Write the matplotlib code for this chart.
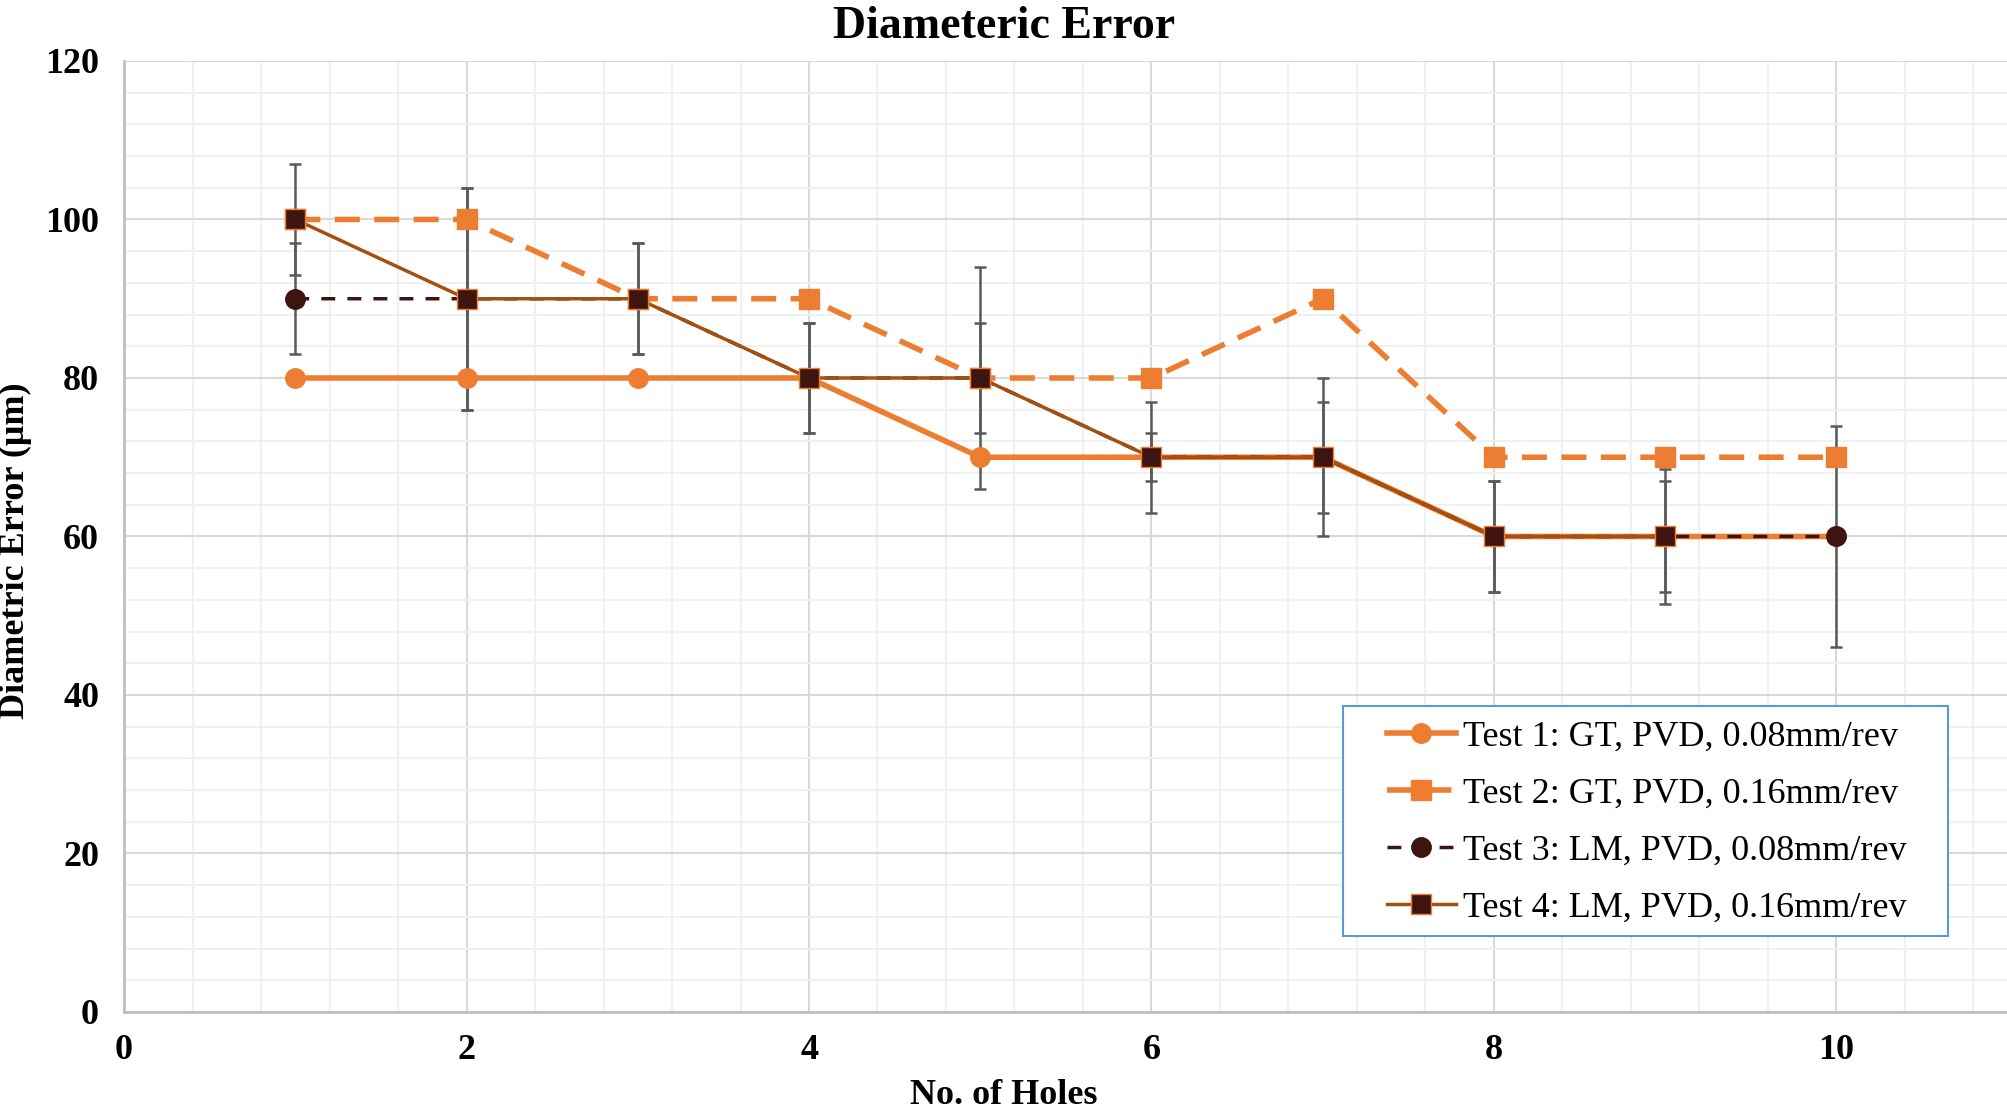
import matplotlib.pyplot as plt
from matplotlib.patches import Rectangle
from matplotlib.ticker import MultipleLocator

# data
holes = [1, 2, 3, 4, 5, 6, 7, 8, 9, 10]
test1 = [80, 80, 80, 80, 70, 70, 70, 60, 60, 60]
test2 = [100, 100, 90, 90, 80, 80, 90, 70, 70, 70]
test3 = [90, 90, 90, 80, 80, 70, 70, 60, 60, 60]
test3_err = [7, 14, 7, 7, 14, 7, 10, 7, 8.5, 14]
holes4 = [1, 2, 3, 4, 5, 6, 7, 8, 9]
test4 = [100, 90, 90, 80, 80, 70, 70, 60, 60]
test4_err = [7, 14, 7, 7, 7, 3, 7, 7, 7]

labels = ['Test 1: GT, PVD, 0.08mm/rev',
          'Test 2: GT, PVD, 0.16mm/rev',
          'Test 3: LM, PVD, 0.08mm/rev',
          'Test 4: LM, PVD, 0.16mm/rev']

orange = '#ED7D31'
brown = '#A5500F'
dark = '#3E1410'
grey_bar = '#595959'

plt.rcParams['font.family'] = ['Liberation Serif', 'DejaVu Serif']

fig = plt.figure(figsize=(20.08, 11.09), dpi=100)
ax = fig.add_axes([0.0618, 0.0875, 0.938, 0.8575])

# error bars (grey, under the lines)
ax.errorbar(holes, test3, yerr=test3_err, fmt='none', ecolor=grey_bar,
            elinewidth=1.8, capsize=4.5, capthick=1.8, zorder=2)
ax.errorbar(holes4, test4, yerr=test4_err, fmt='none', ecolor=grey_bar,
            elinewidth=1.8, capsize=4.5, capthick=1.8, zorder=2)

ax.plot(holes, test1, color=orange, lw=4, marker='o', markersize=14,
        markerfacecolor=orange, markeredgecolor=orange, zorder=3, label=labels[0])
ax.plot(holes, test2, color=orange, lw=4, linestyle=(0, (4.5, 2.6)), marker='s',
        markersize=15, markerfacecolor=orange, markeredgecolor=orange,
        zorder=4, label=labels[1])
ax.plot(holes, test3, color=dark, lw=2.5, linestyle=(0, (4, 3.5)), marker='o',
        markersize=14, markerfacecolor=dark, markeredgecolor=dark,
        zorder=5, label=labels[2])
ax.plot(holes4, test4, color=brown, lw=2.5, marker='s', markersize=15,
        markerfacecolor=dark, markeredgecolor=orange, markeredgewidth=1,
        zorder=6, label=labels[3])

ax.set_xlim(0, 11)
ax.set_ylim(0, 120)
ax.xaxis.set_major_locator(MultipleLocator(2))
ax.xaxis.set_minor_locator(MultipleLocator(0.4))
ax.yaxis.set_major_locator(MultipleLocator(20))
ax.yaxis.set_minor_locator(MultipleLocator(4))
ax.grid(which='major', color='#D9D9D9', lw=1.5)
ax.grid(which='minor', color='#F0F0F0', lw=1.5)
ax.set_axisbelow(True)

for s in ['top', 'right']:
    ax.spines[s].set_visible(False)
for s in ['left', 'bottom']:
    ax.spines[s].set_color('#BFBFBF')
    ax.spines[s].set_linewidth(2)

ax.tick_params(which='both', length=0)
ax.tick_params(axis='x', pad=16, labelsize=26)
ax.tick_params(axis='y', pad=18, labelsize=26)
for t in ax.get_xticklabels() + ax.get_yticklabels():
    t.set_fontweight('bold')

fig.text(0.5, 0.966, 'Diameteric Error', ha='center', va='baseline',
         fontsize=33, fontweight='bold')
fig.text(0.5, 0.012, 'No. of Holes', ha='center', va='center',
         fontsize=26, fontweight='bold')
fig.text(0.0075, 0.503, 'Diametric Error (μm)', ha='center', va='center',
         rotation=90, fontsize=26, fontweight='bold')

# legend frame drawn separately (wide side padding like the original)
box = Rectangle((0.6472, 0.0799), 0.3212, 0.2419, transform=ax.transAxes,
                facecolor='white', edgecolor='#5B9BD5', lw=1.5, zorder=7)
ax.add_patch(box)
leg = ax.legend(loc='center left', bbox_to_anchor=(0.6706, 0.1993),
                borderaxespad=0, borderpad=0, fontsize=26, frameon=False,
                handlelength=1.9, handletextpad=0.2, labelspacing=0.66)
leg.set_zorder(8)

fig.savefig('out.png', dpi=100)
